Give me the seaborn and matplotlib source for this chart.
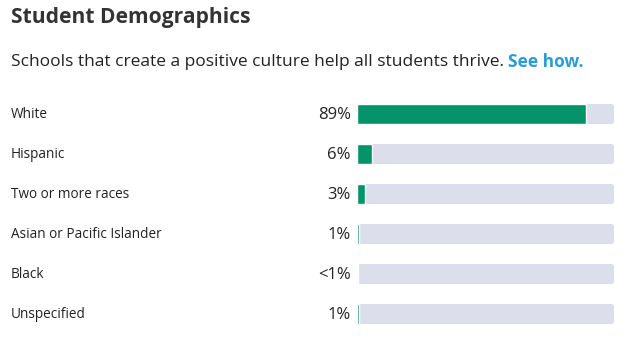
import matplotlib
matplotlib.use("Agg")
import matplotlib.pyplot as plt
import seaborn as sns
import pandas as pd
from matplotlib.patches import FancyBboxPatch

categories = ["White", "Hispanic", "Two or more races", "Asian or Pacific Islander", "Black", "Unspecified"]
values = [89, 6, 3, 0.7, 0.2, 0.7]
value_labels = ["89%", "6%", "3%", "1%", "<1%", "1%"]
title = "Student Demographics"
subtitle = "Schools that create a positive culture help all students thrive."
link_text = "See how."

GREEN = "#05936A"
TRACK = "#DDDEEB"
TEXT = "#222222"

sns.set_theme(style="white")
plt.rcParams["font.family"] = ["Open Sans", "DejaVu Sans"]

df = pd.DataFrame({"category": categories, "value": values, "full": [100] * len(categories)})

W, H = 625, 351
fig = plt.figure(figsize=(W / 100, H / 100), dpi=100)
ax = fig.add_axes([357 / W, (H - 334) / H, 257 / W, 240 / H])

sns.barplot(data=df, y="category", x="full", color=TRACK, width=0.5, ax=ax, orient="h", saturation=1)
sns.barplot(data=df, y="category", x="value", color=GREEN, width=0.5, ax=ax, orient="h", saturation=1)

n = len(categories)
aspect = (6 / 240) / (100 / 257)
for i, p in enumerate(list(ax.patches)):
    x0, y0 = p.get_x(), p.get_y()
    w, h = p.get_width(), p.get_height()
    fc = p.get_facecolor()
    if i < n:
        p.remove()
        fb = FancyBboxPatch((x0, y0), w, h, boxstyle="round,pad=0,rounding_size=1.0",
                            mutation_aspect=aspect, facecolor=fc, edgecolor="none", zorder=1)
        ax.add_patch(fb)
    else:
        p.set_zorder(2)

ax.set_xlim(0, 100)
ax.set_ylim(n - 0.5, -0.5)
ax.axis("off")

for i, (cat, lab) in enumerate(zip(categories, value_labels)):
    ax.text(-6 / 257 * 100, i + 0.03, lab, ha="right", va="center", fontsize=12, color=TEXT, clip_on=False)
    ax.text(-(357 - 11) / 257 * 100, i, cat, ha="left", va="center", fontsize=9.8, color=TEXT, clip_on=False)

fig.text(11 / W, 1 - 17 / H, title, ha="left", va="center", fontsize=15.1, fontweight="bold", color="#333333")
t = fig.text(11 / W, 1 - 62 / H, subtitle + " ", ha="left", va="center", fontsize=12.5, color=TEXT)
fig.canvas.draw()
bb = t.get_window_extent()
fig.text(bb.x1 / W, 1 - 62 / H, link_text, ha="left", va="center", fontsize=12.5,
         fontweight="bold", color="#2E9BD6")

fig.savefig("out.png", dpi=100)
